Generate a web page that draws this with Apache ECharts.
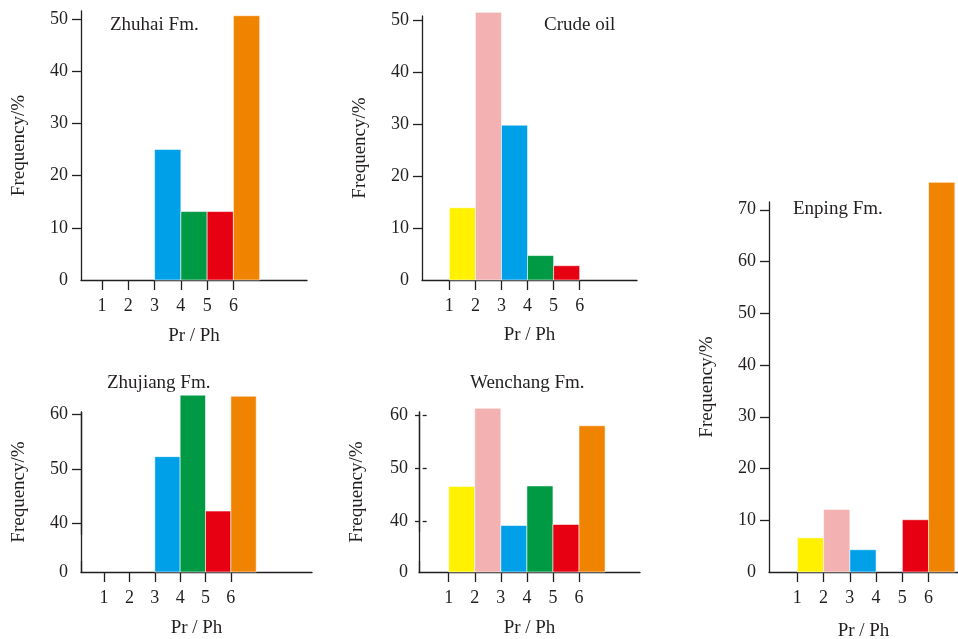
<!DOCTYPE html>
<html>
<head>
<meta charset="utf-8">
<script src="https://cdn.jsdelivr.net/npm/echarts@6.0.0/dist/echarts.min.js"></script>
<style>
  html, body { margin: 0; padding: 0; background: #fff; }
  #chart { width: 958px; height: 639px; }
</style>
</head>
<body>
<div id="chart"></div>
<script>
// Pr/Ph bins: each bar covers [start, start + 1]
var binStarts = [1, 2, 3, 4, 5, 6];
var xTicks = [1, 2, 3, 4, 5, 6];
var binColors = ['#fff100', '#f3b1b1', '#00a0e9', '#009944', '#e60012', '#f08300'];

// frequency (%) per bin
var zhuhaiFreq   = [0, 0, 25, 13.1, 13.1, 50.6];
var crudeOilFreq = [13.9, 51.5, 29.8, 4.7, 2.75, 0];
var zhujiangFreq = [0, 0, 52.3, 63.6, 42.3, 63.4];
var wenchangFreq = [46.5, 61.3, 39.1, 46.6, 39.3, 58.0];
var enpingFreq   = [6.6, 12.1, 4.3, 0, 10.1, 75.3];

// y tick labels
var ticks50 = [0, 10, 20, 30, 40, 50];
var ticksBroken = [0, 40, 50, 60];
var ticks70 = [0, 10, 20, 30, 40, 50, 60, 70];

var ink = '#231f20';
var font = 'Liberation Serif';

var dom = document.getElementById('chart');
var myChart = echarts.init(dom, null, { renderer: 'canvas' });

var panels = [
    { title: 'Zhuhai Fm.', data: zhuhaiFreq, yTicks: ticks50,
      grid: { left: 81, top: 11, width: 226, height: 269 },
      xMin: 0.2, xMax: 8.8, yMax: 51.5, titleAt: [110, 16], xNameGap: 47 },
    { title: 'Crude oil', data: crudeOilFreq, yTicks: ticks50,
      grid: { left: 422, top: 16, width: 215, height: 264 },
      xMin: -0.05, xMax: 8.2, yMax: 50.8, titleAt: [544, 16], xNameGap: 46 },
    { title: 'Zhujiang Fm.', data: zhujiangFreq, yTicks: ticksBroken,
      grid: { left: 81, top: 412, width: 231, height: 160 },
      xMin: 0.09, xMax: 9.2, yMax: 60.5, titleAt: [107, 374], xNameGap: 47,
      breaks: [{ start: 2, end: 38, gap: 4.9 }] },
    { title: 'Wenchang Fm.', data: wenchangFreq, yTicks: ticksBroken,
      grid: { left: 419, top: 412, width: 221, height: 160 },
      xMin: -0.14, xMax: 8.34, yMax: 60.6, titleAt: [470, 374], xNameGap: 47,
      breaks: [{ start: 2, end: 38, gap: 5.7 }], crossTicks: true },
    { title: 'Enping Fm.', data: enpingFreq, yTicks: ticks70,
      grid: { left: 769, top: 202, width: 189, height: 370 },
      xMin: -0.08, xMax: 7.12, yMax: 71.5, titleAt: [793, 200], xNameGap: 50 }
];

function renderBin(params, api) {
    var start = api.value(0);
    var v = api.value(1);
    if (!v) return null;
    var p0 = api.coord([start, 0]);
    var p1 = api.coord([start + 1, v]);
    return {
        type: 'rect',
        shape: { x: p0[0], y: p1[1], width: p1[0] - p0[0], height: p0[1] - p1[1] },
        style: { fill: binColors[params.dataIndex], stroke: 'rgba(255,255,255,0.7)', lineWidth: 0.8 }
    };
}

var labelStyle = { fontFamily: font, fontSize: 18, color: ink };
var nameStyle = { fontFamily: font, fontSize: 19, color: ink };
var axisLineStyle = { color: ink, width: 1.3 };

var option = { animation: false, title: [], grid: [], xAxis: [], yAxis: [], series: [] };

panels.forEach(function (p, i) {
    option.title.push({
        text: p.title, left: p.titleAt[0], top: p.titleAt[1], padding: 0,
        textStyle: { fontFamily: font, fontSize: 19, fontWeight: 'normal', color: ink }
    });
    option.grid.push(Object.assign({ outerBoundsMode: 'none', containLabel: false }, p.grid));
    option.xAxis.push({
        gridIndex: i, type: 'value', min: p.xMin, max: p.xMax,
        axisLine: { onZero: false, lineStyle: axisLineStyle },
        axisTick: { length: 10, customValues: xTicks, lineStyle: axisLineStyle },
        axisLabel: Object.assign({ customValues: xTicks, margin: 17 }, labelStyle),
        splitLine: { show: false },
        name: 'Pr / Ph', nameLocation: 'middle', nameGap: p.xNameGap, nameTextStyle: nameStyle
    });
    var y = {
        gridIndex: i, type: 'value', min: 0, max: p.yMax,
        axisLine: { show: true, onZero: false, lineStyle: axisLineStyle },
        axisTick: { show: true, length: p.crossTicks ? 4 : 9,
            customValues: p.yTicks.filter(function (t) { return t > 0; }),
            lineStyle: axisLineStyle },
        axisLabel: Object.assign({ customValues: p.yTicks, margin: p.crossTicks ? 11 : 13 }, labelStyle),
        splitLine: { show: false },
        name: 'Frequency/%', nameLocation: 'middle', nameGap: 52, nameTextStyle: nameStyle
    };
    if (p.breaks) {
        y.breaks = p.breaks;
        y.breakArea = { show: false };
    }
    option.yAxis.push(y);
    option.series.push({
        type: 'custom', xAxisIndex: i, yAxisIndex: i, clip: false,
        renderItem: renderBin,
        data: binStarts.map(function (b, k) { return [b, p.data[k]]; })
    });
});

// broken panels: continuous axis line drawn by a plain axis without breaks
panels.forEach(function (p, i) {
    if (!p.breaks) return;
    option.yAxis.push({
        gridIndex: i, type: 'value', position: 'left', min: 0, max: p.yMax,
        axisLine: { show: true, onZero: false, lineStyle: axisLineStyle },
        axisTick: { show: false },
        axisLabel: { show: false },
        splitLine: { show: false }
    });
});

// Wenchang ticks cross the axis: a second axis with inward ticks
var w = panels[3];
option.yAxis.push({
    gridIndex: 3, type: 'value', position: 'left', min: 0, max: w.yMax,
    breaks: w.breaks, breakArea: { show: false },
    axisLine: { show: false },
    axisTick: { show: true, inside: true, length: 4, customValues: [40, 50, 60],
        lineStyle: axisLineStyle },
    axisLabel: { show: false },
    splitLine: { show: false }
});

myChart.setOption(option);
</script>
</body>
</html>
